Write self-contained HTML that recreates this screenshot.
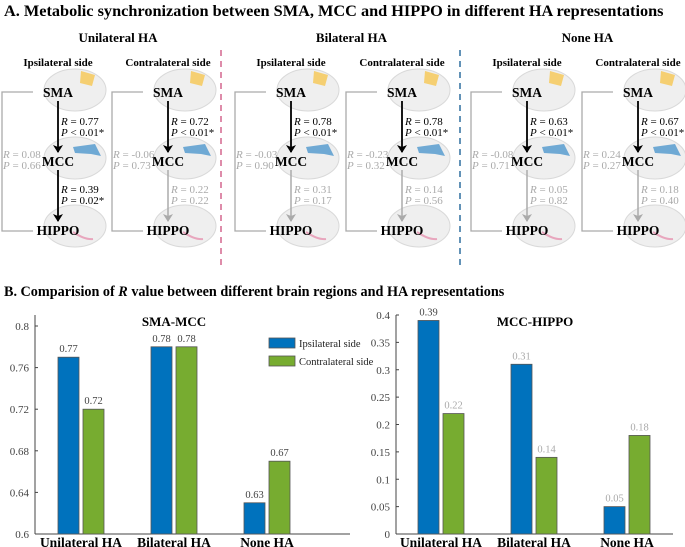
<!DOCTYPE html>
<html><head><meta charset="utf-8">
<style>
body{margin:0;background:#fff;}
svg{display:block;font-family:"Liberation Serif",serif;}
svg text{font-family:"Liberation Serif",serif;}
</style></head>
<body>
<svg id="fig" width="685" height="547" viewBox="0 0 685 547" xmlns="http://www.w3.org/2000/svg">
<defs>
<marker id="ahB" markerWidth="8" markerHeight="10" refX="7" refY="5" orient="auto" markerUnits="userSpaceOnUse"><path d="M0,0 L8,5 L0,10 L2,5 Z" fill="#000"/></marker>
<marker id="ahG" markerWidth="8" markerHeight="10" refX="7" refY="5" orient="auto" markerUnits="userSpaceOnUse"><path d="M0,0 L8,5 L0,10 L2,5 Z" fill="#aaa"/></marker>
</defs>
<text x="4" y="16" font-size="16.3" font-weight="bold">A. Metabolic synchronization between SMA, MCC and HIPPO in different HA representations</text>
<g id="topg"></g>
<line x1="221" y1="50" x2="221" y2="266" stroke="#d4668e" stroke-width="1.5" stroke-dasharray="6,5"/>
<line x1="460" y1="50" x2="460" y2="266" stroke="#2f6f9f" stroke-width="1.5" stroke-dasharray="6,5"/>
<text x="4" y="296" font-size="14.2" font-weight="bold">B. Comparision of <tspan font-style="italic">R</tspan> value between different brain regions and HA representations</text>
<g id="charts"></g>
</svg>
<script>
// Top panel diagram data
const groupTitles=["Unilateral HA","Bilateral HA","None HA"];
const colX=[58,168,291,402,527,638];
const smaR=["0.77","0.72","0.78","0.78","0.63","0.67"];
const smaP=["< 0.01*","< 0.01*","< 0.01*","< 0.01*","< 0.01*","< 0.01*"];
const hipR=["0.39","0.22","0.31","0.14","0.05","0.18"];
const hipP=["= 0.02*","= 0.22","= 0.17","= 0.56","= 0.82","= 0.40"];
const hipSig=[true,false,false,false,false,false];
const sideR=["0.08","-0.06","-0.03","-0.23","-0.08","0.24"];
const sideP=["0.66","0.73","0.90","0.32","0.71","0.27"];

// Chart data
const categories=["Unilateral HA","Bilateral HA","None HA"];
const smaIpsi=[0.77,0.78,0.63];
const smaContra=[0.72,0.78,0.67];
const smaTicks=[0.6,0.64,0.68,0.72,0.76,0.8];
const hipIpsi=[0.39,0.31,0.05];
const hipContra=[0.22,0.14,0.18];
const hipTicks=[0,0.05,0.1,0.15,0.2,0.25,0.3,0.35,0.4];
const seriesNames=["Ipsilateral side","Contralateral side"];

const NS="http://www.w3.org/2000/svg";
function mk(tag,attrs,parent,txt){const e=document.createElementNS(NS,tag);if(tag==='text')e.setAttribute('font-family','Liberation Serif, serif');for(const k in attrs)e.setAttribute(k,attrs[k]);if(txt!==undefined)e.textContent=txt;parent.appendChild(e);return e;}
function twoPart(parent,x,y,it,rest,c){
  const t=mk('text',{x:x,y:y,'font-size':11,fill:c},parent);
  mk('tspan',{'font-style':'italic'},t,it);
  mk('tspan',{},t,' '+rest);
  return t;
}

const topG=document.getElementById('topg');
groupTitles.forEach((t,i)=>{
  const cx=(colX[2*i]+colX[2*i+1])/2+5;
  const e=mk('text',{x:cx,y:42,'font-size':13,'font-weight':'bold','text-anchor':'middle'},topG,t);
  
  
});
function brain(g,x,y,kind){
  const b=mk('ellipse',{cx:x,cy:y,rx:31,ry:21,fill:'#efefef',stroke:'#d9d9d9','stroke-width':1},g);
  
  
  if(kind==='sma'){const p=mk('path',{d:`M${x+6},${y-19} L${x+20},${y-15} L${x+17},${y-4} L${x+5},${y-7} Z`,fill:'#f5cf72'},g);}
  if(kind==='mcc'){const p=mk('path',{d:`M${x-2},${y-11} L${x+20},${y-14} L${x+26},${y-2} L${x+16},${y-4} L${x},${y-5} Z`,fill:'#6fa9d4'},g);}
  if(kind==='hippo'){const p=mk('path',{d:`M${x-2},${y+6} Q${x+10},${y+14} ${x+18},${y+13}`,stroke:'#e8a6bd','stroke-width':2,fill:'none'},g);}
}
colX.forEach((x,i)=>{
  const g=mk('g',{},topG);
  
  
  const st=mk('text',{x:x,y:66,'font-size':11,'font-weight':'bold','text-anchor':'middle'},g,i%2?'Contralateral side':'Ipsilateral side');
  
  
  brain(g,x+17,90,'sma');brain(g,x+17,158,'mcc');brain(g,x+17,226,'hippo');
  const br=mk('polyline',{points:`${x-25},92 ${x-56},92 ${x-56},231 ${x-25},231`,fill:'none',stroke:'#aaa','stroke-width':1.3},g);
  
  
  const a1=mk('line',{x1:x,y1:101,x2:x,y2:152,stroke:'#000','stroke-width':1.8,'marker-end':'url(#ahB)'},g);
  
  
  const col2=hipSig[i]?'#000':'#aaa';
  const a2=mk('line',{x1:x,y1:170,x2:x,y2:221,stroke:col2,'stroke-width':hipSig[i]?1.8:1.5,'marker-end':hipSig[i]?'url(#ahB)':'url(#ahG)'},g);
  
  
  [['SMA',97],['MCC',166],['HIPPO',235]].forEach(([t,y])=>{
    const l=mk('text',{x:x,y:y,'font-size':13.5,'font-weight':'bold','text-anchor':'middle'},g,t);
    
    
  });
  function stat(tx,ty,r,c,nm,peq){
    const t1=twoPart(g,tx,ty,'R','= '+r,c);
    
    const t2=twoPart(g,tx,ty+11,'P',peq,c);
    
  }
  stat(x+3,125,smaR[i],'#000','sma-mcc-stat',smaP[i]);
  stat(x+3,193,hipR[i],col2,'mcc-hippo-stat',hipP[i]);
  stat(x-55,158,sideR[i],'#aaa','sma-hippo-stat','= '+sideP[i]);
});

// Charts
const charts=document.getElementById('charts');
function chart(opt){
  const g=mk('g',{},charts);
  
  
  const y=v=>opt.y0+(v-opt.d0)/(opt.d1-opt.d0)*(opt.y1-opt.y0);
  const xc=i=>opt.x0+46+i*93;
  const ya=mk('line',{x1:opt.ax,y1:315,x2:opt.ax,y2:534,stroke:'#444','stroke-width':1},g);
  
  
  const xa=mk('line',{x1:opt.ax,y1:534,x2:opt.ax+opt.w,y2:534,stroke:'#444','stroke-width':1},g);
  
  
  opt.ticks.forEach(t=>{
    mk('line',{x1:opt.ax,y1:y(t),x2:opt.ax+3,y2:y(t),stroke:'#444'},g);
    const tl=mk('text',{x:opt.ax-6,y:y(t)+4,'font-size':11,fill:'#444','text-anchor':'end'},g,String(t));
    
    
  });
  const tt=mk('text',{x:opt.tx,y:326,'font-size':13,'font-weight':'bold','text-anchor':'middle'},g,opt.title);
  
  
  categories.forEach((c,i)=>{
    const cl=mk('text',{x:xc(i),y:547,'font-size':13.5,'font-weight':'bold','text-anchor':'middle'},g,c);
    
    
    [[opt.a[i],'#0072bd',-23,opt.ac[i]],[opt.b[i],'#77ac30',2,opt.bc[i]]].forEach(([v,f,dx,lc],k)=>{
      const r=mk('rect',{x:xc(i)+dx,y:y(v),width:21,height:534-y(v),fill:f,stroke:'#555','stroke-width':0.8},g);
      
      
      const vl=mk('text',{x:xc(i)+dx+10.5,y:y(v)-5,'font-size':10.5,fill:lc,'text-anchor':'middle'},g,v.toFixed(2));
      
      
    });
  });
}
chart({name:'chart-sma-mcc',x0:35,ax:35,w:315,y0:534,y1:326,d0:0.6,d1:0.8,ticks:smaTicks,title:'SMA-MCC',tx:174,a:smaIpsi,b:smaContra,ac:['#444','#444','#444'],bc:['#444','#444','#444']});
chart({name:'chart-mcc-hippo',x0:395,ax:396,w:277,y0:534,y1:315,d0:0,d1:0.4,ticks:hipTicks,title:'MCC-HIPPO',tx:535,a:hipIpsi,b:hipContra,ac:['#444','#aaa','#aaa'],bc:['#aaa','#aaa','#aaa']});
// legend
const lg=mk('g',{},charts);


[['#0072bd',343],['#77ac30',361]].forEach(([c,yy],k)=>{
  const r=mk('rect',{x:269,y:yy-5,width:26,height:10,fill:c,stroke:'#555','stroke-width':0.8},lg);
  
  
  const t=mk('text',{x:299,y:yy+4,'font-size':10.5,fill:'#222'},lg,seriesNames[k]);
  
  
});
</script>
</body></html>
